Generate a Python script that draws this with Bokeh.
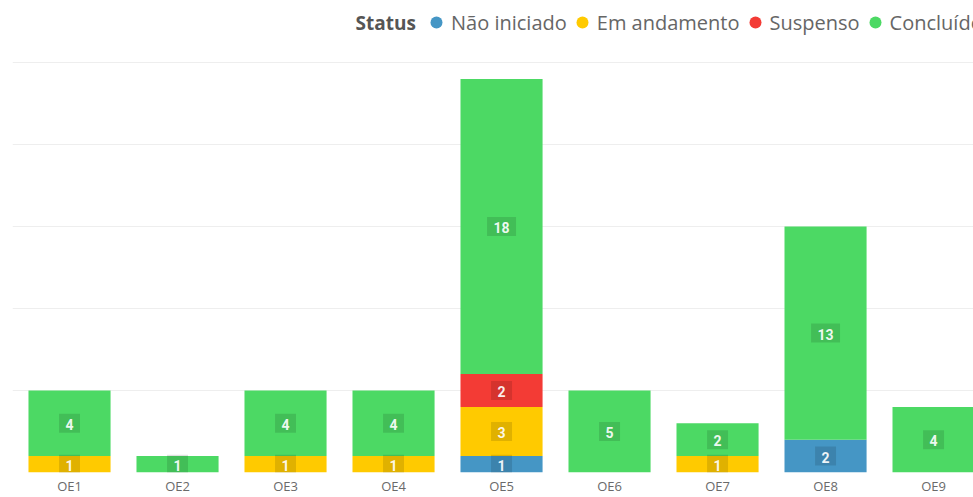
from bokeh.plotting import figure
from bokeh.models import (Range1d, FixedTicker, Legend, LegendItem,
                          ColumnDataSource, Label)
from bokeh.core.properties import value
from bokeh.embed import file_html
from bokeh.resources import INLINE

# ---- data ----
categories = ["OE1", "OE2", "OE3", "OE4", "OE5", "OE6", "OE7", "OE8", "OE9"]
statuses = ["Não iniciado", "Em andamento", "Suspenso", "Concluído"]
nao_iniciado = [0, 0, 0, 0, 1, 0, 0, 2, 0]
em_andamento = [1, 0, 1, 1, 3, 0, 1, 0, 0]
suspenso = [0, 0, 0, 0, 2, 0, 0, 0, 0]
concluido = [4, 1, 4, 4, 18, 5, 2, 13, 4]
status_colors = ["#4596C5", "#FFCA00", "#F33B35", "#4CD964"]
y_ticks = [0, 5, 10, 15, 20, 25]

keys = ["nao", "andamento", "suspenso", "concluido"]
series = [nao_iniciado, em_andamento, suspenso, concluido]
xs = list(range(len(categories)))

data = {"x": xs}
for k, s in zip(keys, series):
    data[k] = s
source = ColumnDataSource(data)

p = figure(width=973, height=497,
           x_range=Range1d(-0.528, 8.37), y_range=Range1d(0, 28.78),
           output_backend="svg", toolbar_location=None,
           y_axis_location=None,
           min_border_left=12, min_border_right=0,
           min_border_top=0, min_border_bottom=0)
p.outline_line_color = None
p.background_fill_color = "white"
p.border_fill_color = "white"

# grid
p.xgrid.visible = False
p.ygrid.ticker = FixedTicker(ticks=y_ticks)
p.ygrid.grid_line_color = "#eeeeee"
p.ygrid.grid_line_width = 1

p.vbar_stack(keys, x="x", width=0.76, source=source,
             color=status_colors, line_color=None)

# value labels
lx, ly, lt, lw = [], [], [], []
bottoms = [0] * len(categories)
for s in series:
    for i, v in enumerate(s):
        if v > 0:
            lx.append(xs[i])
            ly.append(bottoms[i] + v / 2)
            lt.append(str(v))
            lw.append(13 + 8 * len(str(v)))
        bottoms[i] += v
lsrc = ColumnDataSource(dict(x=lx, y=ly, t=lt, w=lw))
p.rect(x="x", y="y", width="w", height=19, width_units="screen",
       height_units="screen", source=lsrc, fill_color="black",
       fill_alpha=0.12, line_color=None)
p.text(x="x", y="y", text="t", source=lsrc, text_align="center",
       text_baseline="middle", text_color="white", text_alpha=0.92,
       text_font=value("Roboto"), text_font_style="bold",
       text_font_size="14px", y_offset=1)

# x axis
ax = p.xaxis[0]
ax.ticker = FixedTicker(ticks=xs)
ax.major_label_overrides = {x: c for x, c in zip(xs, categories)}
ax.axis_line_color = None
ax.major_tick_line_color = None
ax.minor_tick_line_color = None
ax.major_tick_out = 0
ax.major_tick_in = 0
ax.major_label_standoff = 4
ax.major_label_text_font = "Open Sans"
ax.major_label_text_font_size = "13px"
ax.major_label_text_color = "#6a6a6a"

# legend title
p.add_layout(Label(x=343, y=450, x_units="screen", y_units="screen",
                   text="Status", text_font="Open Sans",
                   text_font_size="19px", text_font_style="bold",
                   text_color="#555555", text_baseline="middle",
                   text_align="left"))

# legend with circle glyphs (zero-size proxy renderers)
items = []
for k, lab, col in zip(keys, statuses, status_colors):
    r = p.scatter(x="x", y=k, source=source, marker="circle", size=0,
                  fill_color=col, line_color=None)
    items.append(LegendItem(label=lab, renderers=[r]))
legend = Legend(items=items, location=(409, 435), orientation="horizontal",
                glyph_width=30, glyph_height=30,
                label_standoff=0, spacing=-2, padding=0, margin=0,
                border_line_color=None, background_fill_alpha=0,
                label_text_font="Open Sans", label_text_font_size="20px",
                label_text_color="#666666")
p.add_layout(legend)

open("out.html", "w").write(file_html(p, INLINE))
